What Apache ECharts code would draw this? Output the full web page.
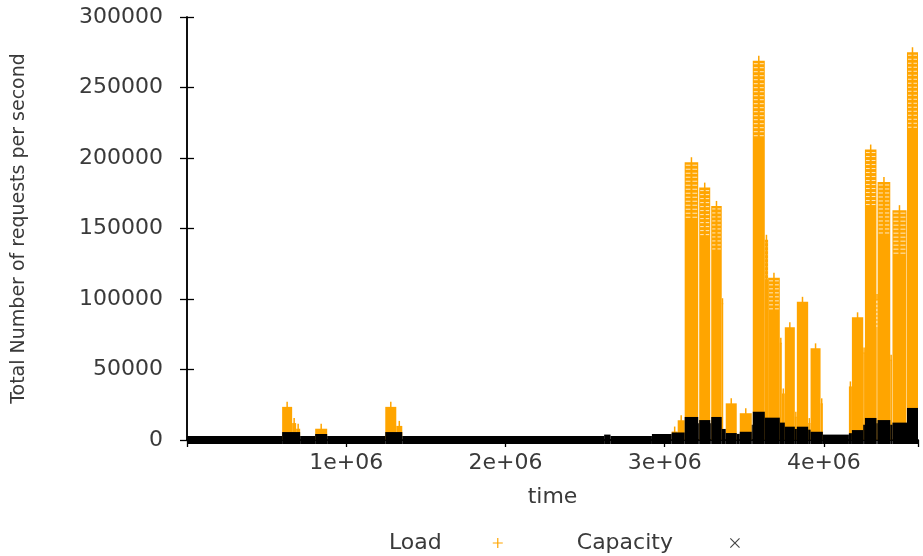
<!DOCTYPE html>
<html><head><meta charset="utf-8">
<script src="https://cdn.jsdelivr.net/npm/echarts@6/dist/echarts.min.js"></script>
<style>html,body{margin:0;padding:0;background:#fff}#c{width:923px;height:556px}</style>
</head><body><div id="c"></div>
<script>
// ---- Data ----
const loadStart = [597500, 660400, 685500, 805000, 1245300, 1314500, 3044000, 3081800, 3125800, 3217000, 3292500, 3358500, 3383600, 3471700, 3553500, 3628900, 3649700, 3723300, 3735800, 3754700, 3817600, 3830200, 3901300, 3916400, 3979200, 4157200, 4176100, 4247200, 4257900, 4330200, 4337700, 4417000, 4430800, 4522000];
const loadEnd   = [660400, 685500, 710700, 880500, 1314500, 1352200, 3081800, 3125800, 3210700, 3286200, 3358500, 3367900, 3452800, 3547200, 3628900, 3649700, 3723300, 3735800, 3754700, 3817600, 3830200, 3901300, 3916400, 3979200, 3993700, 4176100, 4247200, 4257900, 4330200, 4337700, 4417000, 4427700, 4518900, 4591200];
const loadValue = [23500, 12000, 8000, 8000, 23500, 10000, 6000, 14000, 197000, 179000, 166000, 97000, 26000, 19000, 269000, 142000, 115000, 69000, 33000, 80000, 16500, 98000, 12000, 65000, 26000, 38000, 87000, 62000, 206000, 100000, 183000, 57000, 163000, 275000];

const capStart = [0, 597500, 710700, 805000, 880500, 1245300, 1352200, 2620000, 2660000, 2920000, 3044000, 3125800, 3210700, 3217000, 3286200, 3292500, 3358500, 3383600, 3452800, 3471700, 3547200, 3553500, 3628900, 3723300, 3754700, 3817600, 3830200, 3901300, 3916400, 3993700, 4157200, 4176100, 4247200, 4257900, 4330200, 4337700, 4417000, 4430800, 4522000];
const capEnd   = [597500, 710700, 805000, 880500, 1245300, 1352200, 2620000, 2660000, 2920000, 3044000, 3125800, 3210700, 3217000, 3286200, 3292500, 3358500, 3383600, 3452800, 3471700, 3547200, 3553500, 3628900, 3723300, 3754700, 3817600, 3830200, 3901300, 3916400, 3993700, 4157200, 4176100, 4247200, 4257900, 4330200, 4337700, 4417000, 4430800, 4522000, 4591200];
const capValue = [0, 2800, 0, 1400, 0, 2800, 0, 1000, 0, 1400, 2500, 13500, 9000, 11300, 9000, 13500, 5000, 2100, 1500, 3000, 8000, 17200, 13000, 9500, 6600, 5000, 6600, 4500, 3000, 1000, 2000, 4200, 8000, 12800, 9000, 11300, 8000, 9500, 19900];

const xTickValues = [0, 1000000, 2000000, 3000000, 4000000];
const xTickLabels = ['', '1e+06', '2e+06', '3e+06', '4e+06'];
const xMin = 0, xMax = 4591200;
const yMin = 0, yMax = 300000, yStep = 50000;

// ---- Styling ----
const ORANGE = '#FFA500';
const TXT = '#3a3a3a';
const FONT = 'DejaVu Sans';

const loadData = loadStart.map((s, i) => [s, loadEnd[i], loadValue[i]]);
const capData = capStart.map((s, i) => [s, capEnd[i], capValue[i]]);

function renderLoad(params, api) {
  const s = api.value(0), e = api.value(1), v = api.value(2);
  const p0 = api.coord([s, 0]), p1 = api.coord([e, v]);
  const x = p0[0], w = Math.max(p1[0] - p0[0], 1), top = p1[1], base = p0[1];
  const children = [{ type: 'rect', shape: { x: x, y: top, width: w, height: base - top }, style: { fill: ORANGE } }];
  const cx = x + w / 2;
  children.push({ type: 'line', shape: { x1: cx, y1: top - 5, x2: cx, y2: top + 1 }, style: { stroke: ORANGE, lineWidth: 1.5 } });
  if (v >= 100000) {
    const h = (base - top) * 0.2;
    for (let y = top + 3; y < top + h; y += 4) {
      children.push({ type: 'line', shape: { x1: x + 1, y1: y, x2: cx - 1, y2: y }, style: { stroke: '#fff', lineWidth: 1, opacity: 0.75 } });
      children.push({ type: 'line', shape: { x1: cx + 1, y1: y, x2: x + w - 1, y2: y }, style: { stroke: '#fff', lineWidth: 1, opacity: 0.75 } });
    }
  }
  return { type: 'group', children: children };
}

function renderCap(params, api) {
  const s = api.value(0), e = api.value(1), v = api.value(2);
  const p0 = api.coord([s, 0]), p1 = api.coord([e, v]);
  const x = p0[0], w = Math.max(p1[0] - p0[0], 1), top = p1[1] - 4, base = p0[1] + 4;
  return { type: 'rect', shape: { x: x, y: top, width: w, height: base - top }, style: { fill: '#000' } };
}

const plusIcon = 'path://M4.4,0H5.6V4.4H10V5.6H5.6V10H4.4V5.6H0V4.4H4.4Z';
const crossIcon = 'path://M0,0.8L0.8,0L5,4.2L9.2,0L10,0.8L5.8,5L10,9.2L9.2,10L5,5.8L0.8,10L0,9.2L4.2,5Z';

function tick() { return { show: true, inside: true, length: 7, lineStyle: { color: '#000', width: 1.3 } }; }

const chart = echarts.init(document.getElementById('c'), null, { renderer: 'canvas' });
chart.setOption({
  animation: false,
  backgroundColor: '#fff',
  textStyle: { fontFamily: FONT },
  grid: { left: 187, right: 5, top: 17, bottom: 116, containLabel: false },
  legend: {
    left: 384, top: 527, align: 'right', itemGap: 74, itemWidth: 10, itemHeight: 10,
    textStyle: { fontFamily: FONT, fontSize: 22, color: TXT },
    data: [
      { name: 'Load', icon: plusIcon, itemStyle: { color: ORANGE }, textStyle: { padding: [0, 46, 0, 0] } },
      { name: 'Capacity', icon: crossIcon, itemStyle: { color: '#444' }, textStyle: { padding: [0, 52, 0, 0] } }
    ]
  },
  xAxis: [{
    type: 'value', min: xMin, max: xMax, interval: 1000000,
    name: 'time', nameLocation: 'middle', nameGap: 46,
    nameTextStyle: { fontFamily: FONT, fontSize: 22, color: TXT },
    axisLine: { show: true, onZero: false, lineStyle: { color: '#000', width: 1.5 } },
    axisTick: { show: false },
    axisLabel: { fontFamily: FONT, fontSize: 22, color: TXT, margin: 12,
      formatter: v => { const i = xTickValues.indexOf(v); return i >= 0 ? xTickLabels[i] : ''; } },
    splitLine: { show: false }
  }, {
    type: 'value', position: 'top', min: xMin, max: xMax, interval: 1000000,
    axisLine: { show: true, lineStyle: { color: '#000', width: 1.5 } },
    axisTick: tick(),
    axisLabel: { show: false }, splitLine: { show: false }
  }],
  yAxis: [{
    type: 'value', min: yMin, max: yMax, interval: yStep,
    name: 'Total Number of requests per second', nameLocation: 'middle', nameGap: 158, nameRotate: 90,
    nameTextStyle: { fontFamily: FONT, fontSize: 19, color: TXT },
    axisLine: { show: true, lineStyle: { color: '#000', width: 1.5 } },
    axisTick: tick(),
    axisLabel: { fontFamily: FONT, fontSize: 22, color: TXT, margin: 24, formatter: v => String(v) },
    splitLine: { show: false }
  }, {
    type: 'value', position: 'right', min: yMin, max: yMax, interval: yStep,
    axisLine: { show: true, lineStyle: { color: '#000', width: 1.5 } },
    axisTick: tick(),
    axisLabel: { show: false }, splitLine: { show: false }
  }],
  series: [
    { name: 'Load', type: 'custom', renderItem: renderLoad, data: loadData,
      encode: { x: [0, 1], y: 2 }, itemStyle: { color: ORANGE }, clip: false, z: 2 },
    { name: 'Capacity', type: 'custom', renderItem: renderCap, data: capData,
      encode: { x: [0, 1], y: 2 }, itemStyle: { color: '#000' }, clip: false, z: 3 }
  ]
});
</script>
</body></html>
